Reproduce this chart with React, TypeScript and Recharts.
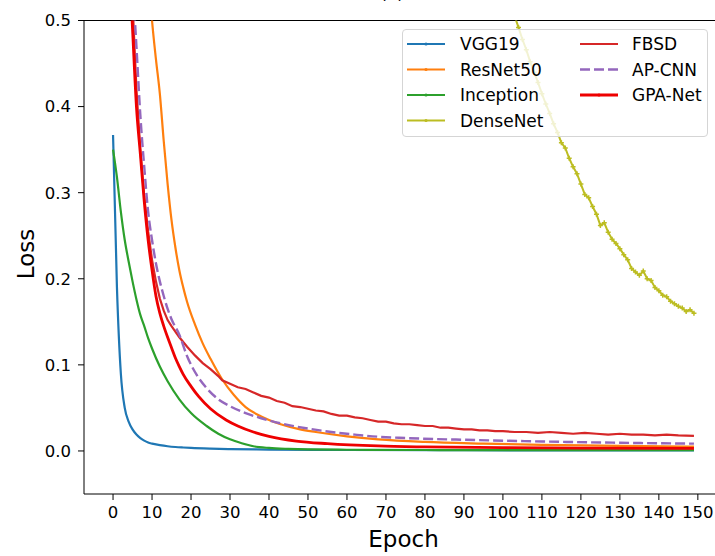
import { LineChart, Line, XAxis, YAxis, Legend, ReferenceLine } from 'recharts'

const X_TICKS = [0, 10, 20, 30, 40, 50, 60, 70, 80, 90, 100, 110, 120, 130, 140, 150]
const Y_TICKS = [0, 0.1, 0.2, 0.3, 0.4, 0.5]

const VGG19_EPOCHS = [0, 1, 2, 3, 4, 5, 6, 7, 8, 9, 10, 12, 14, 16, 18, 20, 25, 30, 40, 60, 90, 120, 149]
const VGG19_LOSS = [0.367, 0.19, 0.09, 0.05, 0.034, 0.025, 0.019, 0.015, 0.012, 0.0098, 0.0085, 0.0068, 0.0055, 0.0046, 0.004, 0.0035, 0.0027, 0.0022, 0.0016, 0.0011, 0.0008, 0.0006, 0.0005]

const RESNET_EPOCHS = [0, 2, 4, 6, 8, 9, 10, 11, 12, 13, 14, 15, 16, 17, 18, 19, 21, 23, 25, 28, 31, 34, 38, 43, 48, 52, 60, 68, 80, 95, 110, 130, 149]
const RESNET_LOSS = [2.2, 1.5, 1.05, 0.8, 0.63, 0.56, 0.5, 0.455, 0.415, 0.36, 0.31, 0.268, 0.236, 0.21, 0.19, 0.173, 0.147, 0.125, 0.107, 0.083, 0.065, 0.051, 0.04, 0.031, 0.025, 0.022, 0.017, 0.0135, 0.0105, 0.0085, 0.007, 0.006, 0.005]

const INCEPTION_EPOCHS = [0, 1, 2, 3, 4, 5, 6, 7, 8, 9, 10, 12, 14, 17, 20, 24, 27, 30, 33, 36, 40, 45, 50, 60, 80, 110, 149]
const INCEPTION_LOSS = [0.35, 0.318, 0.278, 0.245, 0.22, 0.197, 0.176, 0.158, 0.145, 0.131, 0.119, 0.098, 0.081, 0.06, 0.044, 0.029, 0.02, 0.0135, 0.009, 0.0055, 0.0035, 0.0024, 0.0018, 0.0014, 0.0011, 0.0009, 0.0008]

const DENSENET_EPOCHS = [0, 20, 40, 60, 80, 90, 95, 100, 101, 102, 103, 104, 105, 106, 107, 108, 109, 110, 111, 112, 113, 114, 115, 116, 117, 118, 119, 120, 121, 122, 123, 124, 125, 126, 127, 128, 129, 130, 131, 132, 133, 134, 135, 136, 137, 138, 139, 140, 141, 142, 143, 144, 145, 146, 147, 148, 149]
const DENSENET_LOSS = [3.5, 2.4, 1.6, 1.1, 0.8, 0.68, 0.62, 0.55, 0.535, 0.52, 0.505, 0.492, 0.478, 0.466, 0.452, 0.44, 0.428, 0.415, 0.403, 0.392, 0.38, 0.37, 0.358, 0.352, 0.34, 0.33, 0.322, 0.31, 0.298, 0.294, 0.284, 0.275, 0.262, 0.265, 0.254, 0.246, 0.241, 0.235, 0.228, 0.222, 0.212, 0.208, 0.204, 0.209, 0.2, 0.198, 0.19, 0.186, 0.181, 0.179, 0.174, 0.171, 0.168, 0.166, 0.162, 0.164, 0.16]

const FBSD_EPOCHS = [0, 2, 4, 5, 6, 7, 8, 9, 10, 11, 12, 13, 14, 15, 17, 19, 21, 23, 25, 27, 28, 30, 32, 34, 36, 38, 40, 42, 44, 46, 48, 50, 52, 54, 56, 58, 60, 62, 64, 66, 68, 70, 72, 74, 76, 78, 80, 82, 84, 86, 88, 90, 92, 94, 96, 98, 100, 103, 106, 109, 112, 115, 118, 121, 124, 127, 130, 133, 136, 139, 142, 145, 149]
const FBSD_LOSS = [1.4, 0.9, 0.62, 0.52, 0.42, 0.35, 0.295, 0.255, 0.222, 0.197, 0.177, 0.163, 0.152, 0.145, 0.132, 0.121, 0.111, 0.102, 0.095, 0.087, 0.082, 0.078, 0.074, 0.072, 0.068, 0.064, 0.062, 0.058, 0.056, 0.052, 0.051, 0.049, 0.047, 0.046, 0.043, 0.041, 0.041, 0.039, 0.038, 0.036, 0.034, 0.034, 0.032, 0.031, 0.031, 0.03, 0.029, 0.029, 0.027, 0.027, 0.026, 0.025, 0.025, 0.024, 0.024, 0.023, 0.023, 0.022, 0.022, 0.021, 0.022, 0.021, 0.02, 0.021, 0.02, 0.019, 0.02, 0.019, 0.019, 0.018, 0.019, 0.018, 0.0175]

const APCNN_EPOCHS = [0, 2, 4, 5, 6, 7, 8, 9, 10, 11, 12, 13, 14, 15, 17, 19, 21.5, 24, 27, 30, 34, 38, 43, 50, 56, 62, 68, 75, 90, 110, 130, 149]
const APCNN_LOSS = [1.6, 0.95, 0.65, 0.55, 0.47, 0.39, 0.33, 0.278, 0.245, 0.218, 0.197, 0.18, 0.165, 0.153, 0.135, 0.11, 0.088, 0.073, 0.06, 0.052, 0.044, 0.038, 0.032, 0.026, 0.022, 0.019, 0.0165, 0.015, 0.013, 0.011, 0.0095, 0.0085]

const GPANET_EPOCHS = [0, 1, 2, 3, 4, 5, 6, 7, 8, 9, 10, 11, 12, 13, 14, 15, 16, 17, 18, 20, 22, 25, 29, 32, 36, 40, 47, 55, 68, 80, 100, 120, 149]
const GPANET_LOSS = [1.6, 1.15, 0.88, 0.7, 0.58, 0.49, 0.4, 0.345, 0.29, 0.245, 0.21, 0.18, 0.16, 0.145, 0.132, 0.12, 0.108, 0.098, 0.089, 0.075, 0.063, 0.049, 0.036, 0.029, 0.022, 0.017, 0.0115, 0.0085, 0.0058, 0.0047, 0.0038, 0.0033, 0.003]

const toPoints = (epochs: number[], loss: number[]) =>
  epochs.map((epoch, i) => ({ epoch, loss: loss[i] }))

const SERIES = [
  { name: 'VGG19', color: '#1f77b4', data: toPoints(VGG19_EPOCHS, VGG19_LOSS), width: 2.2, marker: true },
  { name: 'ResNet50', color: '#ff7f0e', data: toPoints(RESNET_EPOCHS, RESNET_LOSS), width: 2.2, marker: true },
  { name: 'Inception', color: '#2ca02c', data: toPoints(INCEPTION_EPOCHS, INCEPTION_LOSS), width: 2.2, marker: true },
  { name: 'DenseNet', color: '#bcbd22', data: toPoints(DENSENET_EPOCHS, DENSENET_LOSS), width: 2, marker: true },
  { name: 'FBSD', color: '#d62728', data: toPoints(FBSD_EPOCHS, FBSD_LOSS), width: 2.2, marker: false },
  { name: 'AP-CNN', color: '#9467bd', data: toPoints(APCNN_EPOCHS, APCNN_LOSS), width: 2.4, marker: false, dash: '10 4' },
  { name: 'GPA-Net', color: '#ee0000', data: toPoints(GPANET_EPOCHS, GPANET_LOSS), width: 2.8, marker: true },
]

const FONT = '"DejaVu Sans", sans-serif'

function PlusDot(props: any) {
  const { cx, cy } = props
  if (cx == null || cy == null) return null
  return (
    <path d={`M${cx - 2.5},${cy}H${cx + 2.5}M${cx},${cy - 2.5}V${cy + 2.5}`} stroke="#bcbd22" strokeWidth={1.5} />
  )
}

function LegendBox() {
  const rows = [15, 40.5, 66, 91.5]
  const cols = [{ x: 5, tx: 58 }, { x: 178, tx: 230 }]
  return (
    <div
      style={{
        width: 306,
        height: 108,
        boxSizing: 'border-box',
        background: 'rgba(255,255,255,0.8)',
        border: '1px solid #d5d5d5',
        borderRadius: 4,
      }}
    >
      <svg width={306} height={108} style={{ display: 'block', marginLeft: -1, marginTop: -1 }}>
        {SERIES.map((s, i) => {
          const col = cols[i < 4 ? 0 : 1]
          const y = rows[i < 4 ? i : i - 4]
          return (
            <g key={s.name}>
              <line x1={col.x} x2={col.x + 38} y1={y} y2={y} stroke={s.color} strokeWidth={s.width} strokeDasharray={s.dash} />
              {s.marker && <circle cx={col.x + 19} cy={y} r={1.6} fill={s.color} />}
              <text x={col.tx} y={y} dy="0.36em" fontSize={17} fontFamily={FONT} fill="#000">
                {s.name}
              </text>
            </g>
          )
        })}
      </svg>
    </div>
  )
}

export default function App() {
  return (
    <div style={{ position: 'fixed', left: 0, top: 0, width: 715, height: 556, overflow: 'hidden', background: '#fff' }}>
      <LineChart width={740} height={556} margin={{ top: 20.5, right: 17, bottom: 0, left: 24 }}>
        <XAxis
          type="number"
          dataKey="epoch"
          domain={[-7.45, 156.45]}
          ticks={X_TICKS}
          allowDataOverflow
          height={62}
          tickSize={6}
          tickMargin={6}
          stroke="#000"
          tick={{ fontSize: 16.5, fontFamily: FONT, fill: '#000' }}
          label={{ value: 'Epoch', position: 'insideBottom', offset: 9, fontSize: 23, fontFamily: FONT, fill: '#000' }}
        />
        <YAxis
          type="number"
          domain={[-0.05, 0.5]}
          ticks={Y_TICKS}
          allowDataOverflow
          width={60}
          tickSize={6}
          tickMargin={7}
          stroke="#000"
          tickFormatter={(v: number) => v.toFixed(1)}
          tick={{ fontSize: 16.5, fontFamily: FONT, fill: '#000' }}
          label={{ value: 'Loss', angle: -90, position: 'insideLeft', offset: 2, dy: 22, fontSize: 23, fontFamily: FONT, fill: '#000' }}
        />
        <ReferenceLine y={0.5} stroke="#000" strokeWidth={1} />
        {SERIES.map((s) => (
          <Line
            key={s.name}
            data={s.data}
            dataKey="loss"
            name={s.name}
            type={s.name === 'DenseNet' || s.name === 'FBSD' ? 'linear' : 'monotone'}
            stroke={s.color}
            strokeWidth={s.width}
            strokeDasharray={s.dash}
            dot={s.name === 'DenseNet' ? <PlusDot /> : false}
            activeDot={false}
            isAnimationActive={false}
          />
        ))}
        <Legend
          layout="horizontal"
          verticalAlign="middle"
          content={() => <LegendBox />}
          wrapperStyle={{ position: 'absolute', left: 402, top: 29, width: 306, height: 108 }}
        />
      </LineChart>
      <svg width={715} height={20} style={{ position: 'absolute', left: 0, top: 0 }}>
        <text x={392} y={-1} textAnchor="middle" fontSize={17} fontFamily={FONT} fill="#000">(a)</text>
      </svg>
    </div>
  )
}
